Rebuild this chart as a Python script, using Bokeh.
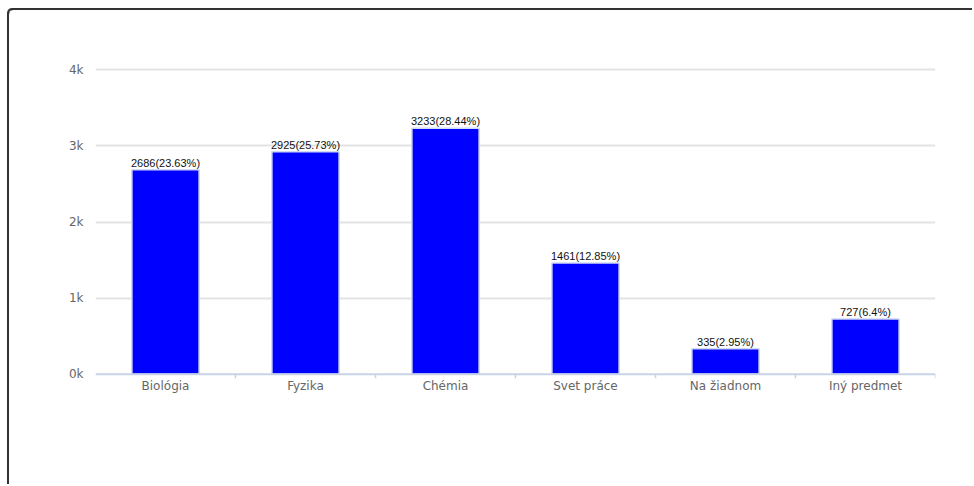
from bokeh.plotting import figure
from bokeh.models import ColumnDataSource, FixedTicker, Span, LabelSet
from bokeh.core.properties import value
from bokeh.transform import dodge
from bokeh.embed import file_html
from bokeh.resources import INLINE

categories = ["Biológia", "Fyzika", "Chémia", "Svet práce", "Na žiadnom", "Iný predmet"]
counts = [2686, 2925, 3233, 1461, 335, 727]
percents = ["23.63", "25.73", "28.44", "12.85", "2.95", "6.4"]
y_ticks = [0, 1000, 2000, 3000, 4000]
y_tick_labels = ["0k", "1k", "2k", "3k", "4k"]

labels = [f"{c}({p}%)" for c, p in zip(counts, percents)]
src = ColumnDataSource(dict(cat=categories, val=counts, lab=labels))

p = figure(x_range=categories, y_range=(-55, 4030), width=965, height=476,
           output_backend="svg", toolbar_location=None,
           min_border_left=86, min_border_right=39, min_border_top=57, min_border_bottom=108)
p.styles = {"margin-left": "9px", "margin-top": "10px",
            "box-shadow": "-2px -2px 0px 0px #333333",
            "border-top-left-radius": "5px"}
p.outline_line_color = None
p.background_fill_color = "white"

p.vbar(x="cat", top="val", width=0.48, source=src, fill_color="#0000ff",
       line_color="#d0d8f4", line_width=1.5)

lbl = LabelSet(x="cat", y="val", text="lab", source=src, text_align="center",
               text_baseline="bottom", y_offset=1, text_font=value("Liberation Sans"),
               text_font_size=value("11px"), text_color="#111111")
p.add_layout(lbl)

# baseline and boundary ticks
p.add_layout(Span(location=0, dimension="width", line_color="#c8d4e6", line_width=2))
tsrc = ColumnDataSource(dict(cat=categories, y0=[0]*len(categories), y1=[-55]*len(categories)))
p.segment(x0=dodge("cat", 0.5, range=p.x_range), x1=dodge("cat", 0.5, range=p.x_range),
          y0="y0", y1="y1", source=tsrc, line_color="#c8d4e6", line_width=1.5)

p.yaxis.ticker = FixedTicker(ticks=y_ticks)
p.yaxis.major_label_overrides = {t: l for t, l in zip(y_ticks, y_tick_labels)}
p.yaxis.axis_line_color = None
p.yaxis.major_tick_line_color = None
p.yaxis.minor_tick_line_color = None
p.yaxis.major_label_standoff = 6
p.yaxis.major_label_text_color = "#666666"
p.yaxis.major_label_text_font = "DejaVu Sans"
p.yaxis.major_label_text_font_size = "12px"

p.xaxis.axis_line_color = None
p.xaxis.major_tick_line_color = None
p.xaxis.major_label_standoff = -6
p.xaxis.major_label_text_color = "#666666"
p.xaxis.major_label_text_font = "DejaVu Sans"
p.xaxis.major_label_text_font_size = "12px"

p.xgrid.grid_line_color = None
p.ygrid.ticker = FixedTicker(ticks=[1000, 2000, 3000, 4000])
p.ygrid.grid_line_color = "#e3e3e3"
p.ygrid.grid_line_width = 2

open("out.html", "w").write(file_html(p, INLINE))
